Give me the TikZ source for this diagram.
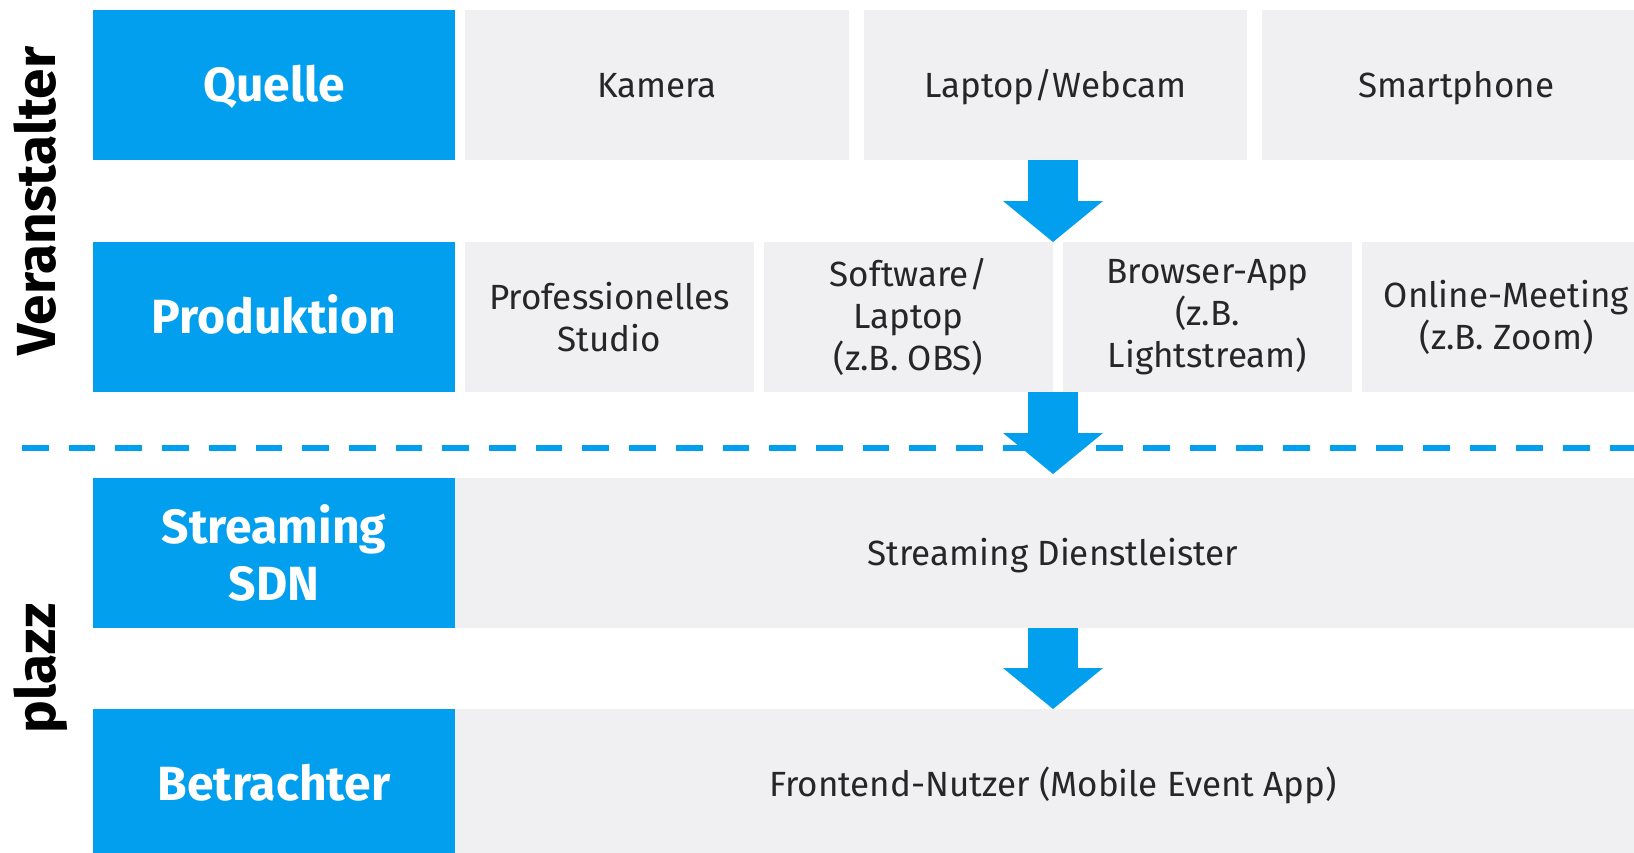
\documentclass[tikz,border=0pt]{standalone}
\usepackage{fontspec}
\setmainfont{Fira Sans}
\usetikzlibrary{positioning,arrows.meta,calc}
\definecolor{plblue}{RGB}{3,159,239}
\definecolor{plgray}{RGB}{240,240,242}
\definecolor{pltext}{RGB}{38,38,38}
\tikzstyle{bbox}=[rectangle, fill=plblue, text=white, minimum width=362pt, minimum height=150pt, inner sep=0pt, outer sep=0pt, text height=33pt, text depth=0pt, font=\fontsize{48}{57}\selectfont\bfseries]
\tikzstyle{gbox}=[rectangle, fill=plgray, text=pltext, minimum height=150pt, inner sep=0pt, outer sep=0pt, text height=24pt, text depth=0pt, font=\fontsize{35}{42}\selectfont]
\tikzstyle{mline}=[text height={}, text depth={}, align=center]
\tikzstyle{sidetext}=[rotate=90, anchor=base, inner sep=0pt, font=\fontsize{55}{60}\selectfont\bfseries]
\tikzstyle{sepline}=[draw=plblue, line width=6.7pt, dash pattern=on 26.7pt off 20pt]
\tikzstyle{farrow}=[draw=plblue, line width=50pt, -{Triangle[length=41pt,width=100pt,line width=0pt]}]

\begin{document}
\begin{tikzpicture}[node distance=0pt]
\useasboundingbox (0,0) rectangle (1634pt,-852pt);
\fill[white] (0,0) rectangle (1634pt,-852pt);
\clip (0,0) rectangle (1634pt,-852pt);
% Veranstalter rows
\node (QU) [bbox] at (274pt,-85pt) {Quelle};
\node (KAM) [gbox, minimum width=384pt, right=10pt of QU] {Kamera};
\node (LW) [gbox, minimum width=383pt, right=15pt of KAM] {Laptop/Webcam};
\node (SMP) [gbox, minimum width=389pt, right=15pt of LW] {Smartphone};
\node (PROD) [bbox, below=82pt of QU] {Produktion};
\node (PRS) [gbox, mline, minimum width=289pt, right=10pt of PROD] {Professionelles\\Studio};
\node (SWL) [gbox, mline, minimum width=289pt, right=10pt of PRS] {Software/\\Laptop\\(z.B. OBS)};
\node (BRA) [gbox, mline, minimum width=289pt, right=10pt of SWL] {Browser-App\\(z.B.\\Lightstream)};
\node (OMT) [gbox, mline, minimum width=289pt, right=10pt of BRA] {Online-Meeting\\(z.B. Zoom)};
% plazz rows
\node (SDN) [bbox, mline, below=86pt of PROD] {Streaming\\SDN};
\node (SDL) [gbox, minimum width=1196pt, right=0pt of SDN] {Streaming Dienstleister};
\node (BET) [bbox, below=81pt of SDN] {Betrachter};
\node (FNU) [gbox, minimum width=1196pt, right=0pt of BET] {Frontend-Nutzer (Mobile Event App)};
% side labels
\node (VER) [sidetext] at ($(QU.west)!.5!(PROD.west)+(-38pt,0)$) {Veranstalter};
\node (PLZ) [sidetext] at ($(SDN.west)!.5!(BET.west)+(-38pt,0)$) {plazz};
% separator
\coordinate (SEPL) at (22pt,-448pt);
\coordinate (SEPR) at (1634pt,-448pt);
\draw[sepline] (SEPL) -- (SEPR);
% arrows
\draw[farrow] (SWL.east |- LW.south) -- (SWL.north east);
\draw[farrow] (SWL.south east) -- ($(SWL.east |- SDN.north)+(0,4pt)$);
\draw[farrow] (SDL.south) -- (FNU.north);
\end{tikzpicture}
\end{document}
